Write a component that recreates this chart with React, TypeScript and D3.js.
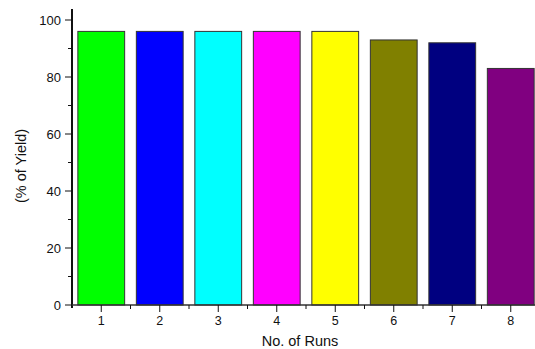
import React, { useEffect, useRef } from "react";
import * as d3 from "d3";

const runs = [1, 2, 3, 4, 5, 6, 7, 8];
const yieldValues = [96, 96, 96, 96, 96, 93, 92, 83];
const barColors = ["#00ff00", "#0000ff", "#00ffff", "#ff00ff", "#ffff00", "#808000", "#000080", "#800080"];
const yTicks = [0, 20, 40, 60, 80, 100];
const yMinorTicks = [10, 30, 50, 70, 90];

const App = () => {
  const svgRef = useRef<SVGSVGElement>(null);

  useEffect(() => {
    const svg = d3.select(svgRef.current);
    svg.selectAll("*").remove();

    const width = 535;
    const height = 349;
    const left = 72;
    const bottom = 305;
    const step = 58.5;

    const x = d3.scaleLinear().domain([0.5, 8.5]).range([left, left + 8 * step]);
    const y = d3.scaleLinear().domain([0, 100]).range([bottom, 20]);
    const barW = step * 0.8;

    svg.append("rect").attr("width", width).attr("height", height).attr("fill", "#fff");

    // bars
    svg.selectAll(".bar")
      .data(runs)
      .enter().append("rect")
      .attr("x", (d) => x(d) - barW / 2)
      .attr("y", (d, i) => y(yieldValues[i]))
      .attr("width", barW)
      .attr("height", (d, i) => bottom - y(yieldValues[i]))
      .attr("fill", (d, i) => barColors[i])
      .attr("stroke", "#333")
      .attr("stroke-width", 1);

    const font = "Liberation Sans, Arial, sans-serif";

    // y axis
    const yAxis = svg.append("g").attr("transform", `translate(${left},0)`);
    yAxis.append("line").attr("x1", 0).attr("x2", 0).attr("y1", 9).attr("y2", bottom + 3)
      .attr("stroke", "#111").attr("stroke-width", 2);
    yAxis.selectAll(".maj").data(yTicks).enter().append("line")
      .attr("x1", -7).attr("x2", 0).attr("y1", (d) => y(d)).attr("y2", (d) => y(d))
      .attr("stroke", "#111").attr("stroke-width", 1);
    yAxis.selectAll(".min").data(yMinorTicks).enter().append("line")
      .attr("x1", -4).attr("x2", 0).attr("y1", (d) => y(d)).attr("y2", (d) => y(d))
      .attr("stroke", "#111").attr("stroke-width", 1);
    yAxis.selectAll("text").data(yTicks).enter().append("text")
      .attr("x", -11).attr("y", (d) => y(d)).attr("dy", "0.35em")
      .attr("text-anchor", "end").attr("font-family", font).attr("font-size", 13)
      .attr("fill", "#111").text((d) => d);

    // x axis
    const xAxis = svg.append("g").attr("transform", `translate(0,${bottom})`);
    xAxis.append("line").attr("x1", left).attr("x2", left + 8 * step).attr("y1", 0).attr("y2", 0)
      .attr("stroke", "#333").attr("stroke-width", 1.5);
    xAxis.selectAll(".maj").data(runs).enter().append("line")
      .attr("x1", (d) => x(d)).attr("x2", (d) => x(d)).attr("y1", 0).attr("y2", 7)
      .attr("stroke", "#111").attr("stroke-width", 1);
    xAxis.selectAll(".min").data(runs.slice(0, 7).map((d) => d + 0.5)).enter().append("line")
      .attr("x1", (d) => x(d)).attr("x2", (d) => x(d)).attr("y1", 0).attr("y2", 4)
      .attr("stroke", "#111").attr("stroke-width", 1);
    xAxis.selectAll("text").data(runs).enter().append("text")
      .attr("x", (d) => x(d)).attr("y", 20)
      .attr("text-anchor", "middle").attr("font-family", font).attr("font-size", 12.5)
      .attr("fill", "#111").text((d) => d);

    // axis titles
    svg.append("text").attr("x", 300).attr("y", 346).attr("text-anchor", "middle")
      .attr("font-family", font).attr("font-size", 14.5).attr("fill", "#111").text("No. of Runs");
    svg.append("text").attr("transform", "translate(26,166) rotate(-90)").attr("text-anchor", "middle")
      .attr("font-family", font).attr("font-size", 14.5).attr("fill", "#111").text("(% of Yield)");
  }, []);

  return (
    <svg ref={svgRef} width={535} height={349} style={{ position: "absolute", left: 0, top: 0 }}></svg>
  );
};

export default App;
